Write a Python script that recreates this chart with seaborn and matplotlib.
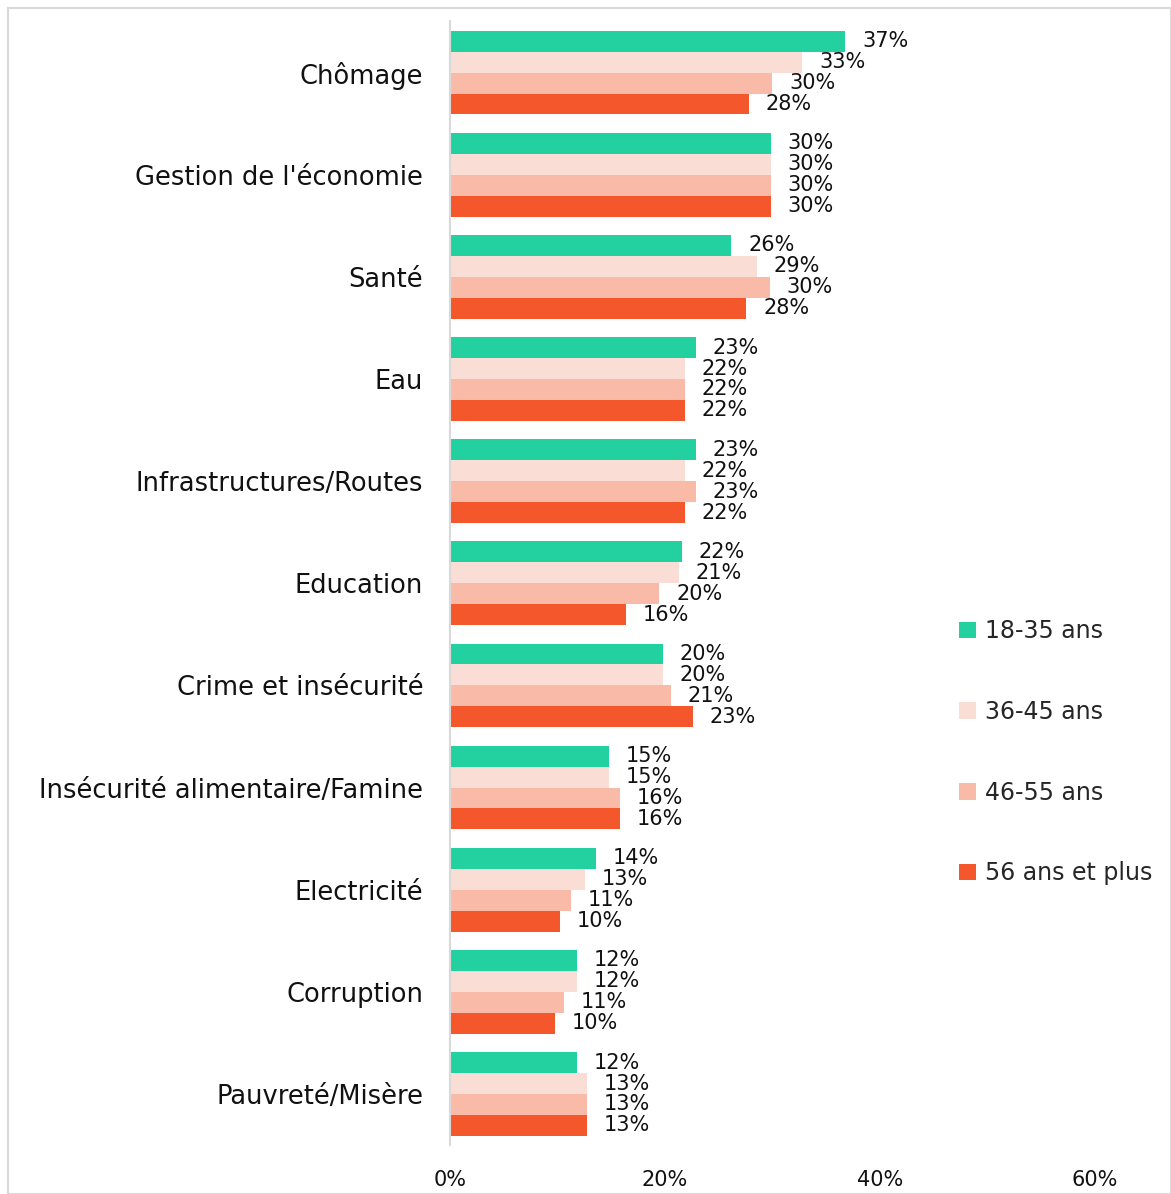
import matplotlib
matplotlib.use("Agg")
import matplotlib.pyplot as plt
from matplotlib.patches import Rectangle
from matplotlib.ticker import PercentFormatter
import pandas as pd
import seaborn as sns

categories = ["Chômage", "Gestion de l'économie", "Santé", "Eau",
              "Infrastructures/Routes", "Education", "Crime et insécurité",
              "Insécurité alimentaire/Famine", "Electricité", "Corruption",
              "Pauvreté/Misère"]
groups = ["18-35 ans", "36-45 ans", "46-55 ans", "56 ans et plus"]

age_18_35 = [36.8, 29.9, 26.2, 22.9, 22.9, 21.6, 19.8, 14.8, 13.6, 11.8, 11.8]
age_36_45 = [32.8, 29.9, 28.6, 21.9, 21.9, 21.3, 19.8, 14.8, 12.6, 11.8, 12.8]
age_46_55 = [30.0, 29.9, 29.8, 21.9, 22.9, 19.5, 20.6, 15.8, 11.3, 10.6, 12.8]
age_56_plus = [27.8, 29.9, 27.6, 21.9, 21.9, 16.4, 22.6, 15.8, 10.3, 9.8, 12.8]

palette = ["#23D1A0", "#FADDD4", "#F9BBA8", "#F4572B"]

# long format for seaborn
rows = []
for g, vals in zip(groups, [age_18_35, age_36_45, age_46_55, age_56_plus]):
    for c, v in zip(categories, vals):
        rows.append({"cat": c, "group": g, "val": v})
df = pd.DataFrame(rows)

sns.set_style("white")
plt.rcParams["font.family"] = ["DejaVu Sans"]

fig = plt.figure(figsize=(11.71, 11.94), dpi=100)
ax = fig.add_axes([0.384, 0.041, 0.551, 0.941])

sns.barplot(data=df, y="cat", x="val", hue="group", order=categories,
            hue_order=groups, palette=palette, width=0.82, saturation=1,
            linewidth=0, orient="h", ax=ax)

for cont in ax.containers:
    labels = [f"{round(b.get_width())}%" for b in cont]
    ax.bar_label(cont, labels=labels, padding=12, fontsize=15, color="#111111")

ax.set_xlim(0, 60)
ax.set_xticks([0, 20, 40, 60])
ax.xaxis.set_major_formatter(PercentFormatter(decimals=0))
ax.set_xlabel("")
ax.set_ylabel("")
ax.tick_params(axis="x", length=0, pad=18, labelsize=15, labelcolor="#111111")
ax.tick_params(axis="y", length=0, pad=19, labelsize=18.5, labelcolor="#111111")
for s in ["top", "right", "bottom"]:
    ax.spines[s].set_visible(False)
ax.spines["left"].set_color("#D9D9D9")
ax.spines["left"].set_linewidth(1.5)

handles, labs = ax.get_legend_handles_labels()
ax.legend(handles, labs, loc="center left", bbox_to_anchor=(0.801, 0.370),
          bbox_transform=fig.transFigure, frameon=False, fontsize=17,
          handlelength=0.7, handleheight=0.7, handletextpad=0.4,
          labelspacing=2.4)

fig.patches.append(Rectangle((0.007, 0.0), 0.993, 0.993, transform=fig.transFigure,
                             fill=False, edgecolor="#D9D9D9", linewidth=1.5))

fig.savefig("out.png", dpi=100)
